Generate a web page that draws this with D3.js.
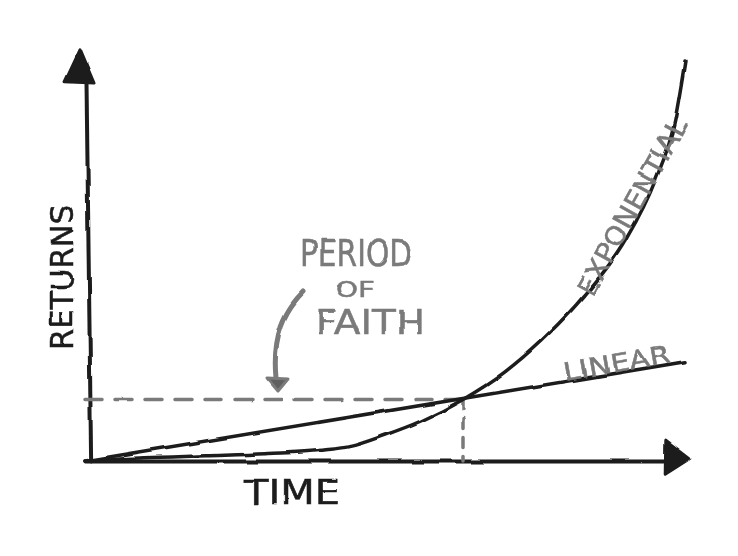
<!DOCTYPE html>
<html>
<head>
<meta charset="utf-8">
<script src="https://cdn.jsdelivr.net/npm/d3@7"></script>
<style>
  body { margin: 0; background: #fff; }
  svg text { font-family: "DejaVu Sans", sans-serif; }
</style>
</head>
<body>
<div id="chart"></div>
<script>
// values (time 0..10, returns 0..100)
const expTime    = [0, 1, 2, 3, 4, 4.4, 5, 5.6, 6.3, 7, 7.6, 8.3, 9, 9.5, 9.83, 10];
const expReturns = [0, 0.8, 1.3, 1.8, 2.8, 3.6, 6.5, 10, 15.4, 22.3, 30, 41, 55, 70, 85, 100];
const linTime    = [0, 10];
const linReturns = [0, 24.8];
const crossing   = [6.3, 15.4];
const labels     = ["RETURNS", "TIME", "EXPONENTIAL", "LINEAR"];
const noteLines  = ["PERIOD", "OF", "FAITH"];

const width = 738, height = 556;
const ink = "#1c1c1c", pencil = "#7a7a7a";

const svg = d3.select("#chart").append("svg")
    .attr("width", width)
    .attr("height", height);

// a little wobble so lines look hand drawn
const defs = svg.append("defs");
const rough = defs.append("filter").attr("id", "rough")
    .attr("x", "-5%").attr("y", "-5%").attr("width", "110%").attr("height", "110%");
rough.append("feTurbulence").attr("type", "fractalNoise")
    .attr("baseFrequency", 0.03).attr("numOctaves", 2).attr("seed", 3).attr("result", "n");
rough.append("feDisplacementMap").attr("in", "SourceGraphic").attr("in2", "n")
    .attr("scale", 3).attr("xChannelSelector", "R").attr("yChannelSelector", "G");

const x = d3.scaleLinear().domain([0, 10]).range([85, 685]);
const y = d3.scaleLinear().domain([0, 100]).range([461, 61]);

const g = svg.append("g").attr("filter", "url(#rough)");

// axes: shaft only, no ticks
g.append("g")
    .attr("transform", `translate(0,${y(0)})`)
    .call(d3.axisBottom(d3.scaleLinear().domain([0, 1]).range([x(0), x(9.72)])).ticks(0).tickSize(0).tickSizeOuter(0))
    .call(a => a.select(".domain").attr("stroke", ink).attr("stroke-width", 4).attr("stroke-linecap", "round"));

g.append("g")
    .attr("transform", `translate(${x(0)},0)`)
    .call(d3.axisLeft(d3.scaleLinear().domain([0, 1]).range([y(0), y(95)])).ticks(0).tickSize(0).tickSizeOuter(0))
    .call(a => a.select(".domain").attr("stroke", ink).attr("stroke-width", 4).attr("stroke-linecap", "round")
        .attr("transform", "skewX(0.7)"));

// arrow heads
g.append("path")
    .attr("d", `M${x(0) - 20},${y(94.8)} L${x(0) - 5},${y(102.8)} L${x(0) + 9},${y(94.5)} Z`)
    .attr("fill", ink).attr("stroke", ink).attr("stroke-width", 3).attr("stroke-linejoin", "round");
g.append("path")
    .attr("d", `M${x(9.67)},${y(-3.3)} L${x(10.08)},${y(0.6)} L${x(9.68)},${y(5.2)} Z`)
    .attr("fill", ink).attr("stroke", ink).attr("stroke-width", 3).attr("stroke-linejoin", "round");

// dashed guides to the crossing point
g.append("line")
    .attr("x1", x(0)).attr("x2", x(crossing[0]))
    .attr("y1", y(crossing[1])).attr("y2", y(crossing[1]))
    .attr("stroke", pencil).attr("stroke-width", 3.5)
    .attr("stroke-dasharray", "17 13").attr("stroke-linecap", "round");
g.append("line")
    .attr("x1", x(crossing[0])).attr("x2", x(crossing[0]))
    .attr("y1", y(crossing[1])).attr("y2", y(0))
    .attr("stroke", pencil).attr("stroke-width", 3.5)
    .attr("stroke-dasharray", "10 9").attr("stroke-linecap", "round");

// series
const line = d3.line().x(d => x(d[0])).y(d => y(d[1]));
g.append("path")
    .datum(d3.zip(linTime, linReturns))
    .attr("d", line)
    .attr("fill", "none").attr("stroke", ink).attr("stroke-width", 3.5).attr("stroke-linecap", "round");
g.append("path")
    .datum(d3.zip(expTime, expReturns))
    .attr("d", line.curve(d3.curveMonotoneX))
    .attr("fill", "none").attr("stroke", ink).attr("stroke-width", 3.5).attr("stroke-linecap", "round");

// "period of faith" arrow
g.append("path")
    .attr("d", "M303,292 C285,310 272,335 276,378")
    .attr("fill", "none").attr("stroke", pencil).attr("stroke-width", 5).attr("stroke-linecap", "round");
g.append("path")
    .attr("d", "M267,378 L288,379 L278,391 Z")
    .attr("fill", "#5f5f5f").attr("stroke", pencil).attr("stroke-width", 3).attr("stroke-linejoin", "round");

// text
const txt = svg.append("g").attr("filter", "url(#rough)");
const hand = (sel, size, color) => sel
    .attr("font-size", size)
    .attr("fill", color).attr("stroke", color).attr("stroke-width", 0.5)
    .attr("lengthAdjust", "spacingAndGlyphs");

hand(txt.append("text").text(labels[0])
    .attr("transform", "translate(73,350) rotate(-90)")
    .attr("text-anchor", "start"), 32, ink)
    .attr("textLength", 145);

hand(txt.append("text").text(labels[1])
    .attr("x", 292).attr("y", 504).attr("text-anchor", "middle"), 34, ink)
    .attr("textLength", 96);

hand(txt.append("text").text(labels[2])
    .attr("transform", "translate(592,298) rotate(-61)")
    .attr("text-anchor", "start"), 27, pencil)
    .attr("textLength", 198);

hand(txt.append("text").text(labels[3])
    .attr("transform", "translate(565,381) rotate(-10)")
    .attr("text-anchor", "start"), 25, pencil)
    .attr("textLength", 108);

const note = [[noteLines[0], 356, 266, 38, 112], [noteLines[1], 355, 297, 22, 40], [noteLines[2], 370, 334, 34, 110]];
note.forEach(([t, cx, cy, fs, len]) => {
    hand(txt.append("text").text(t)
        .attr("x", cx).attr("y", cy).attr("text-anchor", "middle"), fs, pencil)
        .attr("textLength", len);
});
</script>
</body>
</html>
